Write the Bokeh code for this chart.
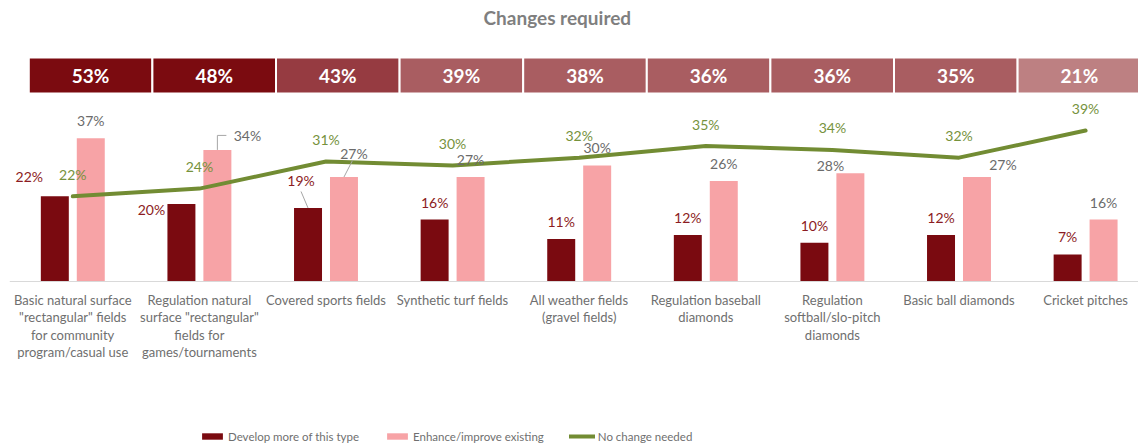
from bokeh.plotting import figure
from bokeh.models import ColumnDataSource, Range1d, Legend, LegendItem, Span
from bokeh.core.properties import value
from bokeh.embed import file_html
from bokeh.resources import INLINE

# ---------------- data ----------------
categories = [
    "Basic natural surface \"rectangular\" fields for community program/casual use",
    "Regulation natural surface \"rectangular\" fields for games/tournaments",
    "Covered sports fields",
    "Synthetic turf fields",
    "All weather fields (gravel fields)",
    "Regulation baseball diamonds",
    "Regulation softball/slo-pitch diamonds",
    "Basic ball diamonds",
    "Cricket pitches",
]
tick_labels = [
    "Basic natural surface\n\"rectangular\" fields\nfor community\nprogram/casual use",
    "Regulation natural\nsurface \"rectangular\"\nfields for\ngames/tournaments",
    "Covered sports fields",
    "Synthetic turf fields",
    "All weather fields\n(gravel fields)",
    "Regulation baseball\ndiamonds",
    "Regulation\nsoftball/slo-pitch\ndiamonds",
    "Basic ball diamonds",
    "Cricket pitches",
]
changes_required = [53, 48, 43, 39, 38, 36, 36, 35, 21]
develop_more = [22, 20, 19, 16, 11, 12, 10, 12, 7]
enhance_existing = [37, 34, 27, 27, 30, 26, 28, 27, 16]
no_change = [22, 24, 31, 30, 32, 35, 34, 32, 39]
series_names = ["Develop more of this type", "Enhance/improve existing", "No change needed"]
title_text = "Changes required"

# ---------------- style ----------------
FONT = "Lato"
DARK = "#7A0A10"
PINK = "#F7A3A6"
GREEN = "#728C33"
GREEN_TXT = "#76923C"
DARK_TXT = "#8C1C22"
GRAY_TXT = "#6B6B6B"
AXIS_TXT = "#6F6F6F"
TITLE_TXT = "#7F7F7F"


def header_color(v):
    if v >= 45:
        return "#7B0B10"
    if v >= 40:
        return "#963B41"
    if v >= 25:
        return "#A95D61"
    return "#BD8082"


PX_X = 126.6     # pixels per category
PX_Y = 3.87      # pixels per percentage point
W, H = 1138, 446
LEFT = 9
TOP = 30
BASE_Y = 281     # baseline position from top of page
FRAME_W = W - LEFT
ABOVE = BASE_Y - TOP          # px of frame above the baseline
BELOW = H - BASE_Y            # px of frame below the baseline
BAR_W = 0.221
BAR_OFF = 0.142
LBL_GAP = 17.5   # px above bar top
LINE_LBL_GAP = 22

# label nudges in px (dx right, dy up) for bars
dev_nudge = [(-25.5, 2), (-30, -23), (-7, 10), (0, 0), (0, 0), (0, 0), (0, 0), (0, 0), (0, 0)]
enh_nudge = [(0, 0), (30, -3), (10, 6), (0, 0), (0, 0), (0, 0), (-20, -10), (26, -5), (0, 0)]

n = len(categories)
idx = list(range(n))

p = figure(width=W, height=H, output_backend="svg", toolbar_location=None,
           x_range=Range1d(-0.5, -0.5 + FRAME_W / PX_X),
           y_range=Range1d(-BELOW / PX_Y, ABOVE / PX_Y),
           min_border_left=LEFT, min_border_right=0,
           min_border_top=TOP, min_border_bottom=0,
           x_axis_location=None, y_axis_location=None, title=title_text)
p.outline_line_color = None
p.grid.visible = False
p.background_fill_color = "white"

p.title.align = "left"
p.title.offset = 474
p.title.text_font = FONT
p.title.text_font_size = "19px"
p.title.text_font_style = "bold"
p.title.text_color = TITLE_TXT
p.title.standoff = 4

# header boxes on their own ranges
HDR_PITCH = 123.6
HDR_LEFT = 19.3
BOX_TOP, BOX_BOT = 57, 93
BOX_H = BOX_BOT - BOX_TOP
p.extra_x_ranges = {"hdr": Range1d(-HDR_LEFT / HDR_PITCH, (FRAME_W - HDR_LEFT) / HDR_PITCH)}
p.extra_y_ranges = {"hdr": Range1d(-(H - BOX_BOT) / BOX_H, 1 + (BOX_TOP - TOP) / BOX_H)}

hdr_src = ColumnDataSource(dict(
    left=idx, right=[i + 1 for i in idx],
    cx=[i + 0.5 for i in idx],
    color=[header_color(v) for v in changes_required],
    txt=[f"{v}%" for v in changes_required],
))
p.quad(left="left", right="right", bottom=0, top=1, source=hdr_src,
       x_range_name="hdr", y_range_name="hdr",
       fill_color="color", line_color="white", line_width=2)
p.text(x="cx", y=0.5, text="txt", source=hdr_src,
       x_range_name="hdr", y_range_name="hdr",
       text_font=value(FONT), text_font_size="19px", text_font_style="bold",
       text_color="white", text_align="center", text_baseline="middle")

# baseline (category axis line)
p.add_layout(Span(location=0, dimension="width", line_color="#D9D9D9", line_width=1))

# bars
r_dev = p.vbar(x=[i - BAR_OFF for i in idx], top=develop_more, width=BAR_W,
               fill_color=DARK, line_color=None)
r_enh = p.vbar(x=[i + BAR_OFF for i in idx], top=enhance_existing, width=BAR_W,
               fill_color=PINK, line_color=None)
r_line = p.line(x=idx, y=no_change, line_width=4, line_color=GREEN,
                line_join="round", line_cap="round")

# leader lines (dark bar 3 and pink bars 2,3)
lead_xs, lead_ys = [], []
i = 2
x0 = i - BAR_OFF
lx = x0 + dev_nudge[i][0] / PX_X
ly = develop_more[i] + (LBL_GAP + dev_nudge[i][1] - 11) / PX_Y
lead_xs.append([x0, lx]); lead_ys.append([develop_more[i], ly])
i = 1
x0 = i + BAR_OFF
yk = enhance_existing[i] + (LBL_GAP + enh_nudge[i][1]) / PX_Y
lead_xs.append([x0, x0, x0 + 9 / PX_X]); lead_ys.append([enhance_existing[i], yk, yk])
i = 2
x0 = i + BAR_OFF
lx = x0 + (enh_nudge[i][0] - 1.5) / PX_X
ly = enhance_existing[i] + (LBL_GAP + enh_nudge[i][1] - 7) / PX_Y
lead_xs.append([x0, lx]); lead_ys.append([enhance_existing[i], ly])
p.multi_line(xs=lead_xs, ys=lead_ys, line_color="#A6A6A6", line_width=1)

# data labels
dev_src = ColumnDataSource(dict(
    x=[i - BAR_OFF for i in idx], y=develop_more,
    t=[f"{v}%" for v in develop_more],
    dx=[d[0] for d in dev_nudge], dy=[-(LBL_GAP + d[1]) for d in dev_nudge]))
p.text(x="x", y="y", text="t", x_offset="dx", y_offset="dy", source=dev_src,
       text_font=value(FONT), text_font_size="14px", text_color=DARK_TXT,
       text_align="center", text_baseline="middle")
enh_src = ColumnDataSource(dict(
    x=[i + BAR_OFF for i in idx], y=enhance_existing,
    t=[f"{v}%" for v in enhance_existing],
    dx=[d[0] for d in enh_nudge], dy=[-(LBL_GAP + d[1]) for d in enh_nudge]))
p.text(x="x", y="y", text="t", x_offset="dx", y_offset="dy", source=enh_src,
       text_font=value(FONT), text_font_size="14px", text_color=GRAY_TXT,
       text_align="center", text_baseline="middle")
nc_src = ColumnDataSource(dict(x=idx, y=no_change, t=[f"{v}%" for v in no_change]))
p.text(x="x", y="y", text="t", y_offset=-LINE_LBL_GAP, source=nc_src,
       text_font=value(FONT), text_font_size="14px", text_color=GREEN_TXT,
       text_align="center", text_baseline="middle")

# category labels under the baseline
cat_src = ColumnDataSource(dict(x=idx, t=tick_labels))
p.text(x="x", y=0, text="t", y_offset=10, source=cat_src,
       text_font=value(FONT), text_font_size="13px", text_color=AXIS_TXT,
       text_align="center", text_baseline="top", text_line_height=1.1)

# legend
legend = Legend(items=[LegendItem(label=series_names[0], renderers=[r_dev]),
                       LegendItem(label=series_names[1], renderers=[r_enh]),
                       LegendItem(label=series_names[2], renderers=[r_line])],
                orientation="horizontal", location=(190, 3),
                glyph_width=26, glyph_height=8, label_height=14,
                label_standoff=3, spacing=25, padding=0, margin=0,
                border_line_color=None, background_fill_alpha=0,
                label_text_font=FONT, label_text_font_size="11.5px",
                label_text_color=AXIS_TXT)
p.add_layout(legend)

open("out.html", "w").write(file_html(p, INLINE))
